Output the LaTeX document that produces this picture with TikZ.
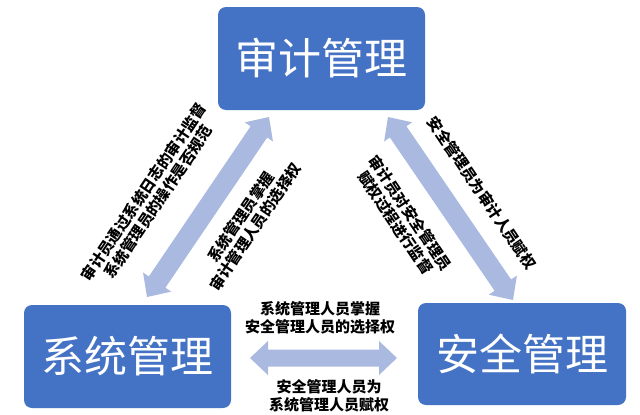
\documentclass[tikz,border=0pt]{standalone}
\usepackage{fontspec}
\newfontfamily\cjk{Noto Sans CJK SC}
\usetikzlibrary{calc}
\definecolor{boxblue}{HTML}{4472C4}
\definecolor{arrowblue}{HTML}{A9B9DF}
% double-headed block arrow between two named points: #1 start, #2 end, #3 shaft half width
\newcommand\blockarrow[3]{%
  \fill[arrowblue] let \p1=($(#2)-(#1)$), \n1={atan2(\y1,\x1)} in
    (#1) -- ($(#1)+(\n1:18pt)+(\n1+90:17pt)$) -- ($(#1)+(\n1:18pt)+(\n1+90:#3)$)
    -- ($(#2)+(\n1:-18pt)+(\n1+90:#3)$) -- ($(#2)+(\n1:-18pt)+(\n1+90:17pt)$) -- (#2)
    -- ($(#2)+(\n1:-18pt)+(\n1-90:17pt)$) -- ($(#2)+(\n1:-18pt)+(\n1-90:#3)$)
    -- ($(#1)+(\n1:18pt)+(\n1-90:#3)$) -- ($(#1)+(\n1:18pt)+(\n1-90:17pt)$) -- cycle;}
\begin{document}
\begin{tikzpicture}[x=1pt,y=-1pt,
  mgmt/.style={fill=boxblue, rounded corners=8pt, minimum width=207pt,
    minimum height=103pt, text=white, inner sep=0pt,
    font=\cjk\fontsize{43}{48}\selectfont},
  lbl/.style={font=\cjk\bfseries\fontsize{15}{17.5}\selectfont,
    align=center, inner sep=0pt, text=black}]
\useasboundingbox (0,0) rectangle (640,415);
\fill[white] (0,0) rectangle (640,415);
% boxes
\node[mgmt] (audit) at (321.5,58.5) {审计管理};
\node[mgmt] (sys) at (127.5,356.5) {系统管理};
\node[mgmt, minimum width=208pt, minimum height=102pt] (sec) at (522,354) {安全管理};
% arrow end points
\coordinate (a1) at (269,117);
\coordinate (a2) at (147,297);
\coordinate (b1) at (388,117);
\coordinate (b2) at (513,300);
\coordinate (c1) at (250,358);
\coordinate (c2) at (397,358);
\blockarrow{a1}{a2}{10pt}
\blockarrow{b1}{b2}{10pt}
\blockarrow{c1}{c2}{8.5pt}
% labels
\node[lbl, rotate=56] (l1) at (151,197) {审计员通过系统日志的审计监督\\系统管理员的操作是否规范};
\node[lbl, rotate=56] (l2) at (248,222) {系统管理员掌握\\审计管理人员的选择权};
\node[lbl, rotate=-56] (l3) at (403,218) {审计员对安全管理员\\赋权过程进行监督};
\node[lbl, rotate=-56] (l4) at (482,193) {安全管理员为审计人员赋权};
\node[lbl] (l5) at (320,318) {系统管理人员掌握\\安全管理人员的选择权};
\node[lbl] (l6) at (329,396) {安全管理人员为\\系统管理人员赋权};
\end{tikzpicture}
\end{document}
